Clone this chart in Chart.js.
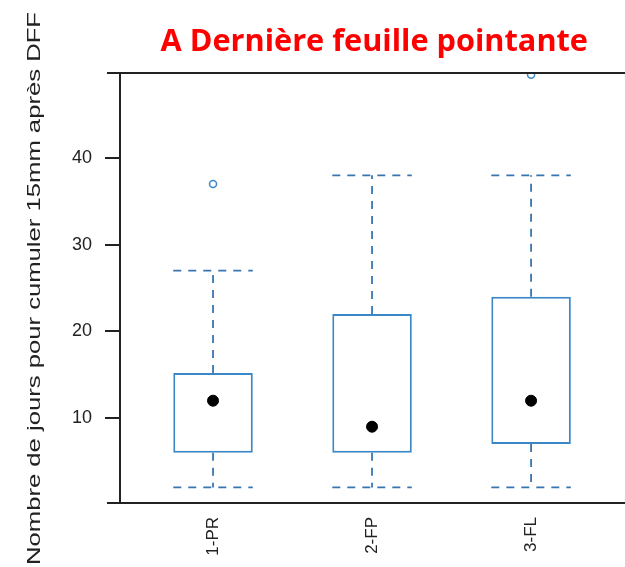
<!DOCTYPE html>
<html>
<head>
<meta charset="utf-8">
<script src="https://cdn.jsdelivr.net/npm/chart.js@4.4.1/dist/chart.umd.min.js"></script>
<style>
  body { margin: 0; background: #fff; }
  canvas { display: block; }
</style>
</head>
<body>
<canvas id="myChart" width="625" height="567"></canvas>
<script>
// data
const categories = ['1-PR', '2-FP', '3-FL'];
const whiskerLow = [2, 2, 2];
const q1 = [6, 6, 7];
const q3 = [15.2, 22, 24];
const whiskerHigh = [27, 38, 38];
const dots = [12, 9, 12];
const outliers = [[37], [], [49.6]];
const yTicks = [10, 20, 30, 40];

const titleText = 'A Dernière feuille pointante';
const yTitle = 'Nombre de jours pour cumuler 15mm après DFF';

// layout
const BOX_HALF = 0.25;
const boxColor = '#3b88c8';
const whiskerColor = '#3975b0';

Chart.defaults.font.family = '"Liberation Sans", Arial, sans-serif';
Chart.defaults.color = '#222';

// whisker segments, broken with gaps
const whiskerData = [];
categories.forEach((c, i) => {
    const x = i + 1;
    whiskerData.push({ x: x, y: q3[i] }, { x: x, y: whiskerHigh[i] }, { x: x, y: null });
    whiskerData.push({ x: x - BOX_HALF, y: whiskerHigh[i] }, { x: x + BOX_HALF, y: whiskerHigh[i] }, { x: x, y: null });
    whiskerData.push({ x: x, y: q1[i] }, { x: x, y: whiskerLow[i] }, { x: x, y: null });
    whiskerData.push({ x: x - BOX_HALF, y: whiskerLow[i] }, { x: x + BOX_HALF, y: whiskerLow[i] }, { x: x, y: null });
});

const outlierData = [];
outliers.forEach((list, i) => list.forEach(v => outlierData.push({ x: i + 1, y: v })));

// frame lines and the stretched y title
const framePlugin = {
    id: 'frame',
    afterDraw(chart) {
        const { ctx, chartArea: a } = chart;
        ctx.save();
        ctx.strokeStyle = '#222';
        ctx.lineWidth = 2;
        ctx.beginPath();
        ctx.moveTo(a.left - 13, a.top);
        ctx.lineTo(chart.width, a.top);
        ctx.moveTo(a.left - 13, a.bottom);
        ctx.lineTo(chart.width, a.bottom);
        ctx.stroke();

        ctx.translate(40, 288.5);
        ctx.rotate(-Math.PI / 2);
        ctx.font = '18px "Liberation Sans", Arial, sans-serif';
        const w = ctx.measureText(yTitle).width;
        ctx.scale(553 / w, 1);
        ctx.textAlign = 'center';
        ctx.textBaseline = 'alphabetic';
        ctx.fillStyle = '#222';
        ctx.fillText(yTitle, 0, 0);
        ctx.restore();
    }
};

const ctx = document.getElementById('myChart').getContext('2d');
new Chart(ctx, {
    type: 'bar',
    data: {
        datasets: [{
            type: 'line',
            data: whiskerData,
            borderColor: whiskerColor,
            borderWidth: 1.8,
            borderDash: [8, 7],
            pointRadius: 0,
            spanGaps: false,
            fill: false,
            order: 3
        }, {
            type: 'bar',
            data: categories.map((c, i) => ({ x: i + 1, y: [q1[i], q3[i]] })),
            backgroundColor: '#ffffff',
            borderColor: boxColor,
            borderWidth: 2,
            borderSkipped: false,
            categoryPercentage: 1,
            barPercentage: 0.5,
            order: 2
        }, {
            type: 'scatter',
            data: dots.map((v, i) => ({ x: i + 1, y: v })),
            pointStyle: 'circle',
            pointRadius: 5.5,
            backgroundColor: '#000',
            borderColor: '#000',
            borderWidth: 1,
            order: 1
        }, {
            type: 'scatter',
            data: outlierData,
            pointStyle: 'circle',
            pointRadius: 3.5,
            backgroundColor: 'rgba(0,0,0,0)',
            borderColor: boxColor,
            borderWidth: 1.5,
            clip: 0,
            order: 0
        }]
    },
    options: {
        responsive: false,
        animation: false,
        layout: { padding: { left: 0, right: 37, top: 0, bottom: 0 } },
        plugins: {
            legend: { display: false },
            tooltip: { enabled: false },
            title: {
                display: true,
                text: titleText,
                align: 'end',
                color: '#ff0000',
                font: { family: '"Open Sans", Lato, sans-serif', size: 30.7, weight: 'bold', lineHeight: 1.2 },
                padding: { top: 24, bottom: 12.2 }
            }
        },
        scales: {
            x: {
                type: 'linear',
                min: 0.415,
                max: 3.358,
                offset: false,
                grid: { display: false, drawTicks: false, offset: false },
                border: { display: true, color: '#222', width: 2 },
                afterBuildTicks: scale => { scale.ticks = categories.map((c, i) => ({ value: i + 1 })); },
                afterFit: scale => { scale.height = 64; },
                ticks: {
                    autoSkip: false,
                    minRotation: 90,
                    maxRotation: 90,
                    padding: 14,
                    font: { size: 17 },
                    callback: v => categories[v - 1]
                }
            },
            y: {
                type: 'linear',
                min: 0.2,
                max: 49.8,
                grid: { drawOnChartArea: false, drawTicks: true, tickLength: 15, color: '#222', lineWidth: 2 },
                border: { display: true, color: '#222', width: 2 },
                afterBuildTicks: scale => { scale.ticks = yTicks.map(v => ({ value: v })); },
                afterFit: scale => { scale.width = 120; },
                ticks: { padding: 13, font: { size: 18 } }
            }
        }
    },
    plugins: [framePlugin]
});
</script>
</body>
</html>
